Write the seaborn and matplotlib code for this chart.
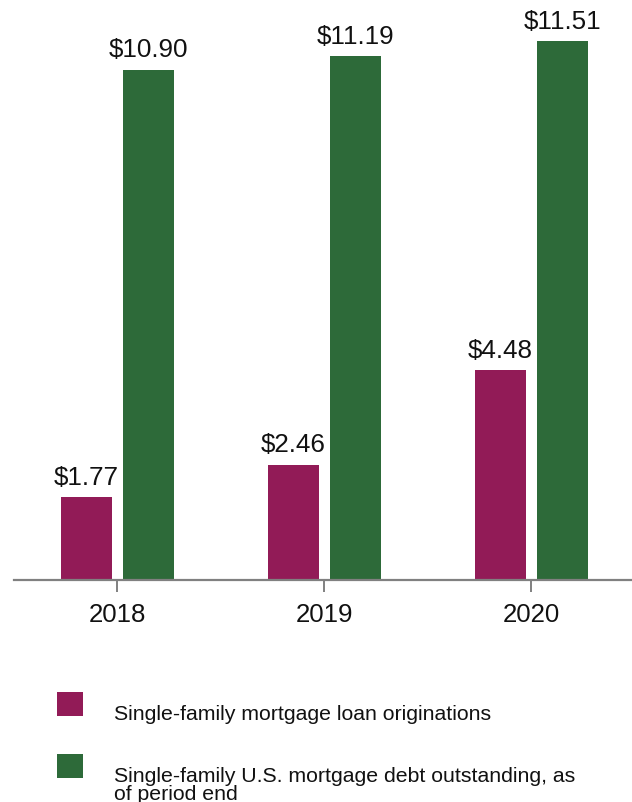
import matplotlib
matplotlib.use("Agg")
import matplotlib.pyplot as plt
from matplotlib.patches import Rectangle
import pandas as pd
import seaborn as sns

years = ["2018", "2019", "2020"]
originations = [1.77, 2.46, 4.48]
debt_outstanding = [10.90, 11.19, 11.51]
series_names = [
    "Single-family mortgage loan originations",
    "Single-family U.S. mortgage debt outstanding, as\nof period end",
]
colors = ["#921B57", "#2D6A39"]

df = pd.DataFrame({
    "year": years * 2,
    "value": originations + debt_outstanding,
    "series": [series_names[0]] * 3 + [series_names[1]] * 3,
})

sns.set_theme(style="white")
plt.rcParams["font.family"] = ["Liberation Sans", "DejaVu Sans"]

W, H = 632, 803
fig = plt.figure(figsize=(W / 100, H / 100), dpi=100)
ax = fig.add_axes([14 / W, (H - 581) / H, 618 / W, 581 / H])

sns.barplot(data=df, x="year", y="value", hue="series", palette=colors,
            width=0.6, gap=0.18, saturation=1, linewidth=0, legend=False, ax=ax)

for cont in ax.containers:
    ax.bar_label(cont, fmt="${:.2f}", padding=6, fontsize=18.7, color="#111111")

ax.set_xlim(-0.5, 2.486)
ax.set_ylim(0, 12.41)
ax.set_xlabel("")
ax.set_ylabel("")
ax.set_yticks([])
for side in ["top", "right", "left"]:
    ax.spines[side].set_visible(False)
ax.spines["bottom"].set_color("#808080")
ax.spines["bottom"].set_linewidth(1.6)
ax.tick_params(axis="x", length=8.5, width=1.4, color="#808080", pad=7.5,
               labelsize=18.6, labelcolor="#111111", bottom=True)

# legend drawn below the plot
rows = [(693, 720), (755, 782)]
for (sq_top, baseline), name, col in zip(rows, series_names, colors):
    fig.patches.append(Rectangle((57 / W, (H - sq_top - 24) / H), 26 / W, 24 / H,
                                 transform=fig.transFigure, facecolor=col,
                                 edgecolor="none"))
    first_line = name.split("\n")[0]
    fig.text(114 / W, (H - baseline) / H, first_line, fontsize=15.3,
             va="baseline", ha="left", color="#111111")
    for k, extra in enumerate(name.split("\n")[1:], start=1):
        fig.text(114 / W, (H - baseline - 18 * k) / H, extra, fontsize=15.3,
                 va="baseline", ha="left", color="#111111")

fig.savefig("out.png", dpi=100)
